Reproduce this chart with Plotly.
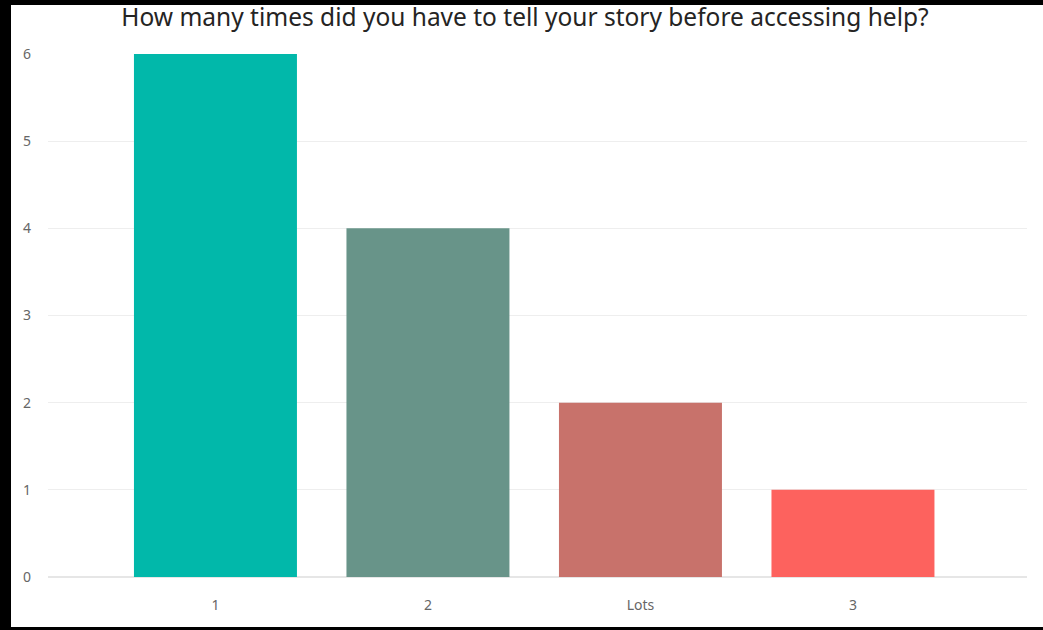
import plotly.graph_objects as go

# --- DATA ---
categories = ["1", "2", "Lots", "3"]
counts = [6, 4, 2, 1]
bar_colors = ["#01B8AA", "#689489", "#C8726B", "#FD625E"]
y_ticks = [0, 1, 2, 3, 4, 5, 6]

# --- CANVAS GEOMETRY (pixels) ---
W, H = 1043, 630
ml, mr, mt, mb = 48, 16, 54, 53
pw, ph = W - ml - mr, H - mt - mb


def px_box(x0, y0, x1, y1):
    """Rectangle given in page pixels, converted to paper coordinates."""
    return dict(
        type="rect", xref="paper", yref="paper",
        x0=(x0 - ml) / pw, x1=(x1 - ml) / pw,
        y0=(H - mb - y1) / ph, y1=(H - mb - y0) / ph,
        fillcolor="black", line=dict(width=0), layer="above",
    )


fig = go.Figure()
fig.add_trace(go.Bar(
    x=categories, y=counts,
    marker=dict(color=bar_colors, line=dict(width=0)),
    width=0.767,
    hovertemplate="%{x}: %{y}<extra></extra>",
))

fig.update_layout(
    width=W, height=H,
    margin=dict(l=ml, r=mr, t=mt, b=mb),
    paper_bgcolor="white", plot_bgcolor="white",
    font=dict(family="Noto Sans, Open Sans, sans-serif", color="#666666", size=14),
    title=dict(
        text="How many times did you have to tell your story before accessing help?",
        x=(525 - ml) / pw, xref="paper", xanchor="center",
        y=1 - 17 / H, yanchor="middle",
        font=dict(size=24.5, color="#252423", family="Noto Sans, Open Sans, sans-serif"),
    ),
    xaxis=dict(
        range=[-0.788, 3.819], showgrid=False, zeroline=False, showline=False,
        ticks="", ticklabelstandoff=18,
    ),
    yaxis=dict(
        range=[0, 6], tickvals=y_ticks, showgrid=True, gridcolor="#EEEEEE",
        gridwidth=1, zeroline=True, zerolinecolor="#E6E6E6", zerolinewidth=2,
        showline=False, ticks="", ticklabelstandoff=16,
    ),
    shapes=[
        px_box(0, 0, 11, H),
        px_box(0, 0, W, 5),
        px_box(0, 627, W, H),
    ],
    showlegend=False,
    bargap=0.23,
)

# page body has a default 8px margin; drop it so the figure sits at the page origin
fig.write_html(
    "out.html",
    config={"displayModeBar": False},
    post_script="document.body.style.margin='0';",
)
